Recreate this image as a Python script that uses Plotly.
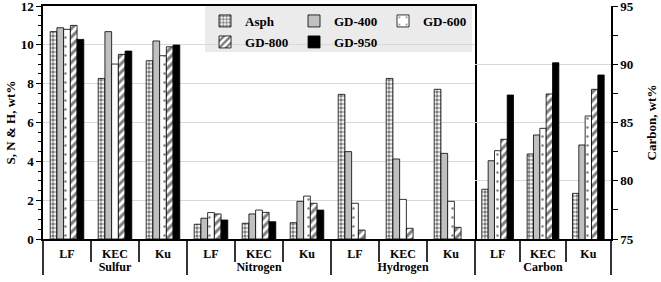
import plotly.graph_objects as go

# ---------------- data ----------------
groups_snh = ["Sulfur"] * 3 + ["Nitrogen"] * 3 + ["Hydrogen"] * 3
samples = ["LF", "KEC", "Ku"]
samples_snh = samples * 3
groups_c = ["Carbon"] * 3

series_names = ["Asph", "GD-400", "GD-600", "GD-800", "GD-950"]

asph_snh = [10.68, 8.27, 9.18, 0.76, 0.81, 0.84, 7.45, 8.27, 7.71]
gd400_snh = [10.88, 10.68, 10.20, 1.07, 1.29, 1.94, 4.50, 4.12, 4.41]
gd600_snh = [10.80, 9.01, 9.44, 1.36, 1.49, 2.21, 1.84, 2.04, 1.94]
gd800_snh = [11.00, 9.51, 9.90, 1.29, 1.37, 1.84, 0.46, 0.55, 0.60]
gd950_snh = [10.28, 9.68, 9.99, 0.98, 0.89, 1.49, None, None, None]

asph_c = [79.27, 82.30, 78.92]
gd400_c = [81.72, 83.93, 83.07]
gd600_c = [82.58, 84.50, 85.56]
gd800_c = [83.56, 87.45, 87.85]
gd950_c = [87.36, 90.13, 89.08]

snh_values = [asph_snh, gd400_snh, gd600_snh, gd800_snh, gd950_snh]
c_values = [asph_c, gd400_c, gd600_c, gd800_c, gd950_c]

# ---------------- styles ----------------
FONT = "Liberation Serif"
styles = [
    dict(color="white", pattern=dict(shape=".", fgcolor="black", bgcolor="white", size=4, solidity=0.6)),
    dict(color="#c0c0c0", pattern=dict(shape="")),
    dict(color="white", pattern=dict(shape=".", fgcolor="black", bgcolor="white", size=9, solidity=0.06)),
    dict(color="white", pattern=dict(shape="/", fgcolor="black", bgcolor="white", size=6, solidity=0.5)),
    dict(color="black", pattern=dict(shape="")),
]

fig = go.Figure()
for i, name in enumerate(series_names):
    st = styles[i]
    lg = "legend" if i < 3 else "legend2"
    fig.add_trace(go.Bar(
        name=name, x=[groups_snh, samples_snh], y=snh_values[i],
        xaxis="x", yaxis="y", legendgroup=name, legend=lg,
        marker=dict(color=st["color"], pattern=st["pattern"],
                    line=dict(color="black", width=0.8)),
    ))
    fig.add_trace(go.Bar(
        name=name, x=[groups_c, samples], y=c_values[i],
        xaxis="x2", yaxis="y2", legendgroup=name, showlegend=False,
        marker=dict(color=st["color"], pattern=st["pattern"],
                    line=dict(color="black", width=0.8)),
    ))

W, H = 661, 282
ml, mr, mt, mb = 43, 50, 6, 43
pw = W - ml - mr
ph = H - mt - mb
split = (475 - ml) / pw

xcommon = dict(
    type="multicategory", showline=True, linecolor="black", linewidth=1.5,
    ticks="outside", tickson="boundaries", ticklen=21, tickcolor="#333", tickwidth=1.5,
    showdividers=True, dividercolor="#333", dividerwidth=1.5,
    tickfont=dict(family=FONT, size=12, color="black", weight="bold"),
    ticklabelstandoff=3,
    automargin=False, showgrid=False,
)

leg_right = (472 - ml) / pw
leg_left = leg_right - 0.47

fig.update_layout(
    width=W, height=H,
    margin=dict(l=ml, r=mr, t=mt, b=mb),
    paper_bgcolor="white", plot_bgcolor="white",
    font=dict(family=FONT, size=13, color="black", weight="bold"),
    barmode="group", bargap=0.3, bargroupgap=0,
    xaxis=dict(domain=[0, split], anchor="y", mirror=True, **xcommon),
    xaxis2=dict(domain=[split, 1], anchor="y2", **xcommon),
    yaxis=dict(
        domain=[0, 1], anchor="x", range=[0, 12], dtick=2,
        showline=True, linecolor="black", linewidth=1.5, mirror=True,
        ticks="outside", ticklen=5, tickcolor="black",
        minor=dict(dtick=0.5, ticks="outside", ticklen=3, tickcolor="black"),
        showgrid=True, gridcolor="#d9d9d9", gridwidth=1,
        zeroline=False, automargin=False, ticklabeloverflow="allow",
        tickfont=dict(family=FONT, size=13, color="black", weight="bold"),
        title=dict(text="S, N & H, wt%", standoff=2,
                   font=dict(family=FONT, size=13, color="black", weight="bold")),
    ),
    yaxis2=dict(
        domain=[0, 1], anchor="x2", side="right", range=[75, 95], dtick=5,
        showline=True, linecolor="black", linewidth=1.5,
        ticks="outside", ticklen=5, tickcolor="black",
        minor=dict(dtick=2.5, ticks="outside", ticklen=5, tickcolor="black"),
        showgrid=True, gridcolor="#d9d9d9", gridwidth=1,
        zeroline=False, automargin=False, ticklabeloverflow="allow",
        tickfont=dict(family=FONT, size=13, color="black", weight="bold"),
        title=dict(text="Carbon, wt%", standoff=14,
                   font=dict(family=FONT, size=13, color="black", weight="bold")),
    ),
    legend=dict(
        x=leg_right, xanchor="right", y=1, yanchor="top",
        orientation="h", bgcolor="rgba(0,0,0,0)", entrywidth=44,
        font=dict(family=FONT, size=13, color="black", weight="bold"),
        tracegroupgap=0,
    ),
    legend2=dict(
        x=leg_left, xanchor="left", y=1 - 21 / ph, yanchor="top",
        orientation="h", bgcolor="rgba(0,0,0,0)", entrywidth=44,
        font=dict(family=FONT, size=13, color="black", weight="bold"),
        tracegroupgap=0,
    ),
)

fig.add_shape(type="rect", xref="paper", yref="paper",
              x0=leg_left, x1=leg_right,
              y0=1 - 46 / ph, y1=1,
              fillcolor="#ebebeb", line=dict(width=0), layer="between")

fig.write_html("out.html", config={"displayModeBar": False},
               post_script="document.body.style.margin='0';")
